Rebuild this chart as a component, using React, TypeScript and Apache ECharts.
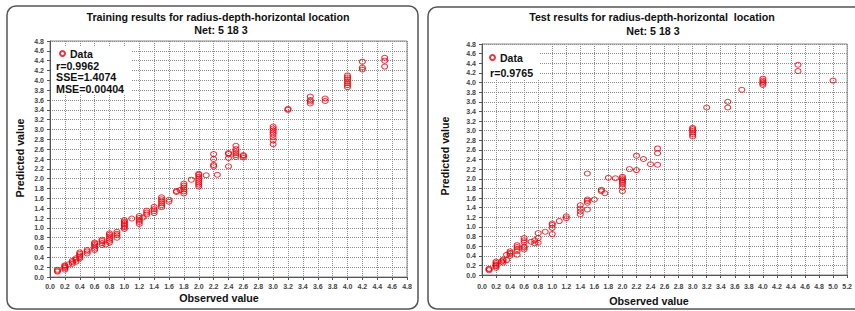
import React, { useEffect, useRef } from "react";
import * as echarts from "echarts";

// Training set: observed values and the predicted values at each observed value
const trainObserved = [0.1, 0.2, 0.25, 0.3, 0.35, 0.4, 0.5, 0.6, 0.7, 0.75, 0.8, 0.9, 1.0, 1.1, 1.2, 1.25, 1.3, 1.4, 1.5, 1.6, 1.7, 1.75, 1.8, 1.9, 2.0, 2.1, 2.2, 2.25, 2.4, 2.5, 2.6, 3.0, 3.2, 3.5, 3.7, 4.0, 4.2, 4.5];
const trainPredicted = [
  [0.11, 0.13, 0.15],
  [0.15, 0.18, 0.2, 0.22, 0.24],
  [0.26],
  [0.27, 0.3, 0.33],
  [0.31, 0.35, 0.38],
  [0.38, 0.41, 0.44, 0.47, 0.5],
  [0.48, 0.52, 0.55],
  [0.55, 0.58, 0.62, 0.65, 0.68, 0.7],
  [0.65, 0.69, 0.73, 0.76],
  [0.66],
  [0.7, 0.74, 0.78, 0.82, 0.86, 0.89],
  [0.8, 0.85, 0.88, 0.92],
  [0.98, 1.01, 1.04, 1.07, 1.1, 1.13, 1.16],
  [1.19],
  [1.08, 1.12, 1.16, 1.2, 1.24],
  [1.21],
  [1.27, 1.31, 1.35],
  [1.3, 1.34, 1.38, 1.43],
  [1.42, 1.46, 1.5, 1.54, 1.58, 1.62],
  [1.53, 1.57],
  [1.73, 1.75],
  [1.77],
  [1.7, 1.74, 1.78, 1.82, 1.86, 1.9],
  [1.98],
  [1.84, 1.88, 1.92, 1.96, 2.0, 2.04, 2.08, 2.1],
  [2.07],
  [2.25, 2.28, 2.4, 2.5],
  [2.08],
  [2.25, 2.42, 2.5, 2.52],
  [2.44, 2.48, 2.52, 2.56, 2.6, 2.67],
  [2.43, 2.46, 2.48],
  [2.7, 2.78, 2.84, 2.9, 2.94, 2.98, 3.02, 3.06],
  [3.4, 3.42],
  [3.53, 3.57, 3.6, 3.67],
  [3.58, 3.63],
  [3.86, 3.9, 3.94, 3.98, 4.02, 4.06, 4.1],
  [4.22, 4.26, 4.38],
  [4.28, 4.4, 4.46],
];

// Test set
const testObserved = [0.1, 0.2, 0.28, 0.3, 0.35, 0.4, 0.5, 0.6, 0.7, 0.75, 0.8, 0.9, 1.0, 1.1, 1.2, 1.4, 1.5, 1.6, 1.7, 1.75, 1.8, 1.9, 2.0, 2.1, 2.2, 2.3, 2.4, 2.5, 3.0, 3.2, 3.5, 3.7, 4.0, 4.5, 5.0];
const testPredicted = [
  [0.1, 0.12, 0.13],
  [0.15, 0.18, 0.2, 0.22, 0.25, 0.28],
  [0.28],
  [0.26, 0.3, 0.32],
  [0.31, 0.42],
  [0.4, 0.44, 0.46, 0.49],
  [0.42, 0.5, 0.54, 0.58, 0.62],
  [0.53, 0.57, 0.59, 0.68, 0.72, 0.77],
  [0.69],
  [0.66, 0.72],
  [0.67, 0.77, 0.87],
  [0.9],
  [0.85, 0.98, 1.04, 1.07],
  [1.12],
  [1.18, 1.22],
  [1.26, 1.32, 1.38, 1.45],
  [1.36, 1.5, 1.54, 1.57, 2.11],
  [1.57],
  [1.74, 1.77],
  [1.7],
  [2.02],
  [2.01],
  [1.74, 1.82, 1.88, 1.92, 1.95, 1.98, 2.01, 2.04],
  [2.2],
  [2.18, 2.48],
  [2.41],
  [2.3],
  [2.29, 2.53, 2.63],
  [2.88, 2.92, 2.96, 3.0, 3.03, 3.06],
  [3.48],
  [3.48, 3.6],
  [3.85],
  [3.95, 3.98, 4.01, 4.04, 4.08],
  [4.24, 4.37],
  [4.04],
];

const trainTitle = "Training results for radius-depth-horizontal location";
const testTitle = "Test results for radius-depth-horizontal  location";
const netLabel = "Net: 5 18 3";
const trainStats = ["r=0.9962", "SSE=1.4074", "MSE=0.00404"];
const testStats = ["r=0.9765"];
const xName = "Observed value";
const yName = "Predicted value";

const toPoints = (xs: number[], ys: number[][]) =>
  xs.flatMap((x, i) => ys[i].map((y) => [x, y]));

const FONT = "Liberation Sans";
const RED = "#e8000b";

export default function App() {
  const ref = useRef<HTMLDivElement>(null);
  useEffect(() => {
    if (!ref.current) return;
    const chart = echarts.init(ref.current, undefined, { renderer: "svg" });
    const gridLine = { show: true, lineStyle: { color: "#8c8c8c", type: [1, 1] as any, width: 1 } };
    const axisCommon = (max: number) => ({
      type: "value" as const,
      min: 0,
      max,
      interval: 0.2,
      axisLine: { show: true, lineStyle: { color: "#555", width: 1 } },
      axisTick: { show: true, length: 3, lineStyle: { color: "#555" } },
      splitLine: gridLine,
      axisLabel: {
        fontSize: 7,
        color: "#444",
        fontFamily: FONT,
        fontWeight: "bold" as const,
        interval: 0,
        hideOverlap: false,
        showMaxLabel: true,
        formatter: (v: number) => v.toFixed(1),
      },
    });
    const textEl = (x: number, y: number, text: string, size: number, align = "center", rotation = 0) => ({
      type: "text",
      x,
      y,
      rotation,
      z: 20,
      style: {
        text,
        fontSize: size,
        fontWeight: "bold",
        fontFamily: FONT,
        fill: "#111",
        textAlign: align,
        textVerticalAlign: "middle",
      },
    });
    const legendStyle = {
      data: ["Data"],
      padding: 0,
      itemWidth: 5,
      itemHeight: 5,
      itemGap: 2,
      z: 25,
      textStyle: { fontSize: 10.5, fontWeight: "bold", fontFamily: FONT, color: "#111", padding: [0, 0, 0, 0] },
    };
    const option: any = {
      animation: false,
      backgroundColor: "#fff",
      grid: [
        { left: 50, top: 41, width: 357, height: 236, show: true, borderColor: "#8a8a8a", borderWidth: 1 },
        { left: 482, top: 44, width: 372, height: 231, show: true, borderColor: "#8a8a8a", borderWidth: 1 },
      ],
      xAxis: [
        { ...axisCommon(4.8), gridIndex: 0, axisLabel: { ...axisCommon(4.8).axisLabel, margin: 6 } },
        { ...axisCommon(5.2), gridIndex: 1, axisLabel: { ...axisCommon(5.2).axisLabel, margin: 8 } },
      ],
      yAxis: [
        { ...axisCommon(4.8), gridIndex: 0, axisLabel: { ...axisCommon(4.8).axisLabel, margin: 6 } },
        { ...axisCommon(4.8), gridIndex: 1, axisLabel: { ...axisCommon(4.8).axisLabel, margin: 6 } },
      ],
      legend: [
        { ...legendStyle, left: 59, top: 48 },
        { ...legendStyle, left: 489, top: 52 },
      ],
      series: [
        {
          name: "Data",
          type: "scatter",
          xAxisIndex: 0,
          yAxisIndex: 0,
          symbol: "circle",
          symbolSize: [6, 5],
          itemStyle: { color: "rgba(0,0,0,0)", borderColor: RED, borderWidth: 1 },
          data: toPoints(trainObserved, trainPredicted),
        },
        {
          name: "Data",
          type: "scatter",
          xAxisIndex: 1,
          yAxisIndex: 1,
          symbol: "circle",
          symbolSize: [6, 5],
          itemStyle: { color: "rgba(0,0,0,0)", borderColor: RED, borderWidth: 1 },
          data: toPoints(testObserved, testPredicted),
        },
      ],
      graphic: [
        { type: "rect", z: 0, shape: { x: 7, y: 6, width: 411, height: 303, r: 9 }, style: { fill: "none", stroke: "#555", lineWidth: 1.5 } },
        { type: "rect", z: 0, shape: { x: 428, y: 7, width: 440, height: 302, r: 9 }, style: { fill: "none", stroke: "#555", lineWidth: 1.5 } },
        { type: "rect", z: 15, shape: { x: 51, y: 46, width: 80, height: 48 }, style: { fill: "#fff" } },
        { type: "rect", z: 15, shape: { x: 483, y: 46, width: 57, height: 34 }, style: { fill: "#fff" } },
        textEl(218, 17, trainTitle, 10.7),
        textEl(221, 30, netLabel, 10.7),
        textEl(652, 17, testTitle, 10.7),
        textEl(653, 31, netLabel, 10.7),
        ...trainStats.map((s, i) => textEl(56, 65.5 + i * 11.5, s, 10.7, "left")),
        ...testStats.map((s, i) => textEl(490, 72.5 + i * 11.5, s, 10.7, "left")),
        textEl(219, 298, xName, 10.7),
        textEl(649, 301, xName, 10.7),
        textEl(20, 158, yName, 10.7, "center", Math.PI / 2),
        textEl(445, 156, yName, 10.7, "center", Math.PI / 2),
      ],
    };
    chart.setOption(option);
    return () => chart.dispose();
  }, []);
  return (
    <div
      ref={ref}
      style={{ position: "fixed", left: 0, top: 0, width: 855, height: 311 }}
    />
  );
}
